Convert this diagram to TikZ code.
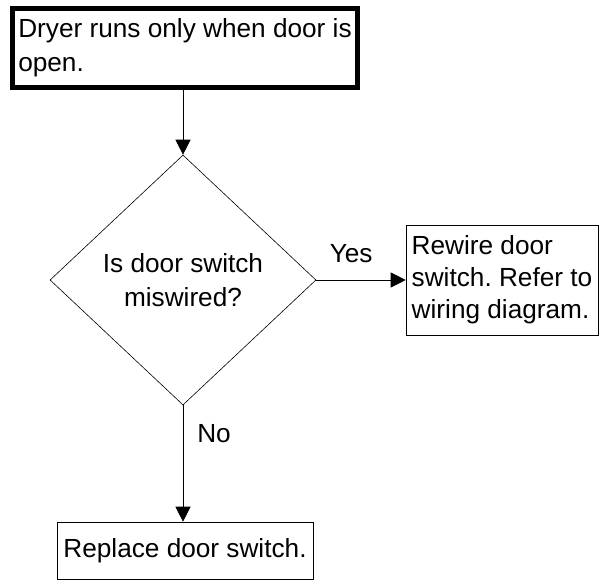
\documentclass[tikz,border=0pt]{standalone}
\usepackage{fontspec}
\setmainfont{Liberation Sans}
\usetikzlibrary{shapes.geometric,arrows.meta}
\frenchspacing
\begin{document}
\begin{tikzpicture}[x=1pt, y=-1pt,
  every node/.style={inner sep=0pt, font=\fontsize{26.2}{34}\selectfont},
  box/.style={draw, rectangle, align=left},
  arrow/.style={-{Triangle[length=15pt, width=15pt]}, line width=0.6pt}]
\useasboundingbox (0,0) rectangle (602,581);

\coordinate (T) at (185,48);
\coordinate (D) at (183,280);
\coordinate (R) at (502,280);
\coordinate (F) at (185,550.5);

\node[box, line width=5pt, minimum width=345pt, minimum height=79pt] (start) at (T) {Dryer runs only when door is\\open.};

\node[draw, diamond, line width=0.6pt, minimum width=266pt, minimum height=250pt, align=center] (check) at (D) {Is door switch\\miswired?};

\begin{scope}[every node/.style={inner sep=0pt, font=\fontsize{26.2}{32}\selectfont}]
\node[box, line width=0.6pt, minimum width=192pt, minimum height=110pt] (rewire) at (R) {Rewire door\\switch. Refer to\\wiring diagram.};
\node[box, line width=0.6pt, minimum width=256pt, minimum height=57pt, align=center] (replace) at (F) {Replace door switch.};
\end{scope}

\draw[arrow] (check.north |- start.south) -- (check.north);
\draw[arrow] (check.east) -- node[above=17pt, pos=0.39] (yes) {Yes} (rewire.west);
\draw[arrow] (check.south) -- node[right=14pt, pos=0.24] (no) {No} (check.south |- replace.north);
\end{tikzpicture}
\end{document}
